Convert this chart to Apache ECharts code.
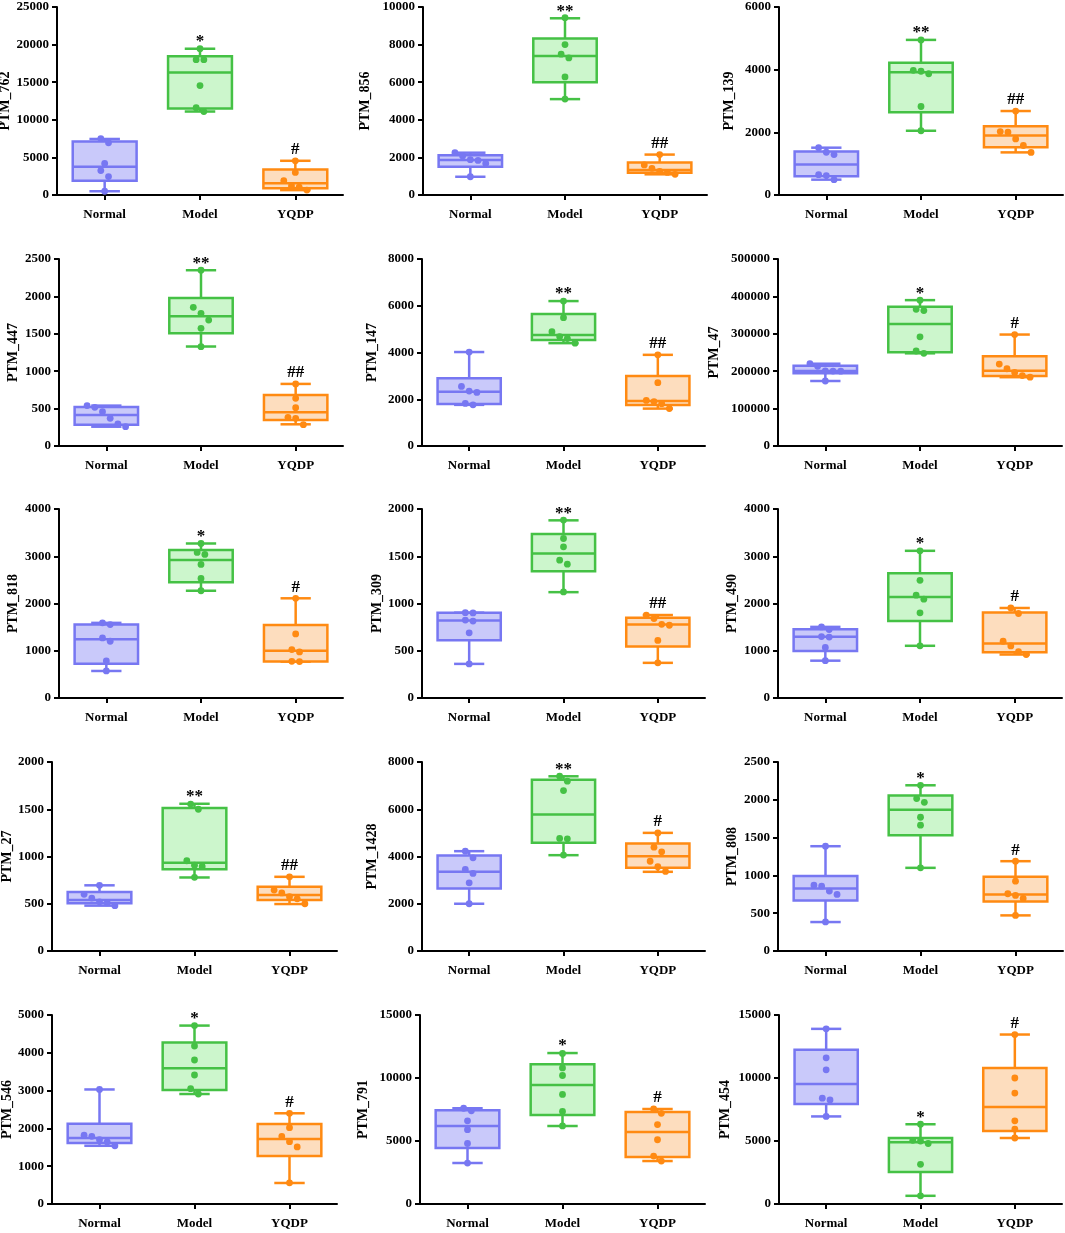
<!DOCTYPE html>
<html><head><meta charset="utf-8">
<script src="https://cdn.jsdelivr.net/npm/echarts/dist/echarts.min.js"></script>
<style>html,body{margin:0;padding:0;background:#fff}#c{width:1065px;height:1233px}</style>
</head><body><div id="c"></div><script>
// ---------------- DATA ----------------
const categories = ['Normal', 'Model', 'YQDP'];
const panelNames = ['PTM_762','PTM_856','PTM_139','PTM_447','PTM_147','PTM_47','PTM_818','PTM_309','PTM_490','PTM_27','PTM_1428','PTM_808','PTM_546','PTM_791','PTM_454'];
const axisMax  = [25000,10000,6000, 2500,8000,500000, 4000,2000,4000, 2000,8000,2500, 5000,15000,15000];
const axisStep = [5000,2000,2000, 500,2000,100000, 1000,500,1000, 500,2000,500, 1000,5000,5000];

// box stats: [min, q1, median, q3, max]
const normalBox = [
  [500,1900,3750,7100,7450],[970,1500,1860,2120,2250],[490,600,970,1390,1510],
  [258,283,414,520,540],[1760,1800,2320,2900,4020],[173800,194300,200500,214800,220000],
  [572,725,1244,1555,1590],[361,612,821,903,903],[790,996,1295,1455,1505],
  [480,504,540,625,695],[2000,2650,3355,4040,4225],[383,669,827,992,1386],
  [1540,1615,1745,2120,3030],[3254,4444,6200,7450,7600],[6950,7937,9520,12250,13900]
];
const modelBox = [
  [11100,11500,16300,18450,19450],[5100,6000,7400,8330,9400],[2050,2640,3920,4220,4950],
  [1330,1506,1735,1980,2350],[4400,4540,4750,5650,6200],[247800,251000,326000,372000,390000],
  [2270,2450,2920,3130,3270],[1120,1340,1529,1735,1880],[1105,1628,2140,2640,3115],
  [778,866,935,1514,1558],[4056,4577,5775,7250,7395],[1100,1530,1870,2057,2192],
  [2910,3016,3590,4270,4720],[6190,7063,9450,11100,11980],[650,2540,4900,5240,6330]
];
const yqdpBox = [
  [650,900,1550,3400,4550],[1100,1190,1330,1730,2150],[1360,1525,1900,2195,2680],
  [290,348,450,683,830],[1600,1755,1925,3000,3900],[184000,187200,201500,240000,298000],
  [770,770,1000,1545,2110],[372,545,778,850,878],[920,970,1152,1810,1905],
  [497,540,593,680,785],[3352,3521,4014,4549,5000],[471,655,748,983,1188],
  [556,1270,1720,2116,2400],[3410,3730,5714,7300,7540],[5238,5794,7700,10800,13450]
];

// individual samples
const normalPts = [
  [7500,6950,4200,3250,2450,500],[2250,2080,1880,1840,1680,970],[1510,1365,1290,650,620,490],
  [540,517,459,370,294,258],[4020,2550,2350,2290,1820,1760],[220000,213000,200800,200300,200000,173800],
  [1590,1555,1272,1201,784,572],[903,900,825,814,690,361],[1505,1450,1300,1290,1070,790],
  [695,600,560,520,510,480],[4225,3944,3451,3282,2887,2000],[1386,871,858,792,748,385],
  [3030,1820,1790,1700,1640,1540],[7600,7400,6600,5900,4800,3250],[13900,11600,10650,8400,8260,6950]
];
const modelPts = [
  [19450,18000,18000,14550,11600,11100],[9430,8000,7490,7290,6280,5100],[4950,3980,3950,3870,2825,2050],
  [2350,1854,1774,1684,1573,1328],[6200,5490,4890,4680,4600,4400],[390000,365500,362000,292000,254000,247800],
  [3270,3081,3039,2827,2530,2270],[1883,1688,1600,1458,1416,1122],[3115,2490,2177,2092,1802,1105],
  [1555,1500,955,908,895,780],[7400,7190,6790,4765,4750,4060],[2192,2016,1967,1769,1664,1100],
  [4720,4180,3809,3413,3050,2910],[11950,10800,10200,8700,7350,6200],[6330,5050,5000,4800,3150,650]
];
const yqdpPts = [
  [4550,3000,1900,1200,1050,650],[2150,1600,1420,1250,1200,1100],[2680,2025,2005,1790,1580,1360],
  [830,637,512,383,370,285],[3900,2710,1950,1900,1810,1600],[298000,219000,206500,196500,188300,184000],
  [2110,1357,1025,975,777,770],[878,840,780,770,609,372],[1905,1788,1201,1102,980,920],
  [785,645,615,575,552,500],[5000,4395,4200,3800,3570,3370],[1188,924,757,735,695,471],
  [2400,2020,1790,1650,1510,560],[7540,7200,6300,5100,3800,3410],[13450,10000,8800,6600,5950,5238]
];

// significance marks (Model vs Normal, YQDP vs Model)
const modelMarks = ['*','**','**','**','**','*','*','**','*','**','**','*','*','*','*'];
const yqdpMarks  = ['#','##','##','##','##','#','#','##','#','##','#','#','#','#','#'];

// ---------------- LAYOUT / STYLE ----------------
const gridLeft  = [57,423,779, 59,422,778, 59,422,778, 52,422,778, 52,420,779];
const gridRight = [343,707,1063, 343,705,1062, 343,705,1062, 337,705,1063, 337,705,1062];
const rowTop    = [7,259,509,762,1015];
const rowBottom = [195,446,698,951,1204];
const nameGaps  = [42,51,43, 39,43,57, 39,38,39, 38,43,39, 35,50,47];
const strokeColors = ['#7777F2','#45C145','#FF8A12'];
const fillColors   = ['#C9C9FA','#CCF6CC','#FDDDBE'];
const FONT = '"Liberation Serif","Times New Roman",serif';

const chart = echarts.init(document.getElementById('c'), null, {renderer:'canvas'});
const grids = [], xAxes = [], yAxes = [], series = [];

for (let i = 0; i < 15; i++) {
  const r = Math.floor(i / 3);
  grids.push({left: gridLeft[i], top: rowTop[r], width: gridRight[i] - gridLeft[i],
    height: rowBottom[r] - rowTop[r], containLabel: false, outerBoundsMode: 'none'});
  xAxes.push({type:'category', gridIndex:i, data:categories,
    axisLine:{show:true, onZero:false, lineStyle:{color:'#000', width:2}},
    axisTick:{show:true, alignWithLabel:true, length:5, lineStyle:{color:'#000', width:2}},
    axisLabel:{color:'#000', fontFamily:FONT, fontWeight:'bold', fontSize:13, margin:13},
    splitLine:{show:false}});
  yAxes.push({type:'value', gridIndex:i, min:0, max:axisMax[i], interval:axisStep[i],
    name:panelNames[i], nameLocation:'middle', nameGap:nameGaps[i],
    nameTextStyle:{color:'#000', fontFamily:FONT, fontWeight:'bold', fontSize:14},
    axisLine:{show:true, lineStyle:{color:'#000', width:2}},
    axisTick:{show:true, length:5, lineStyle:{color:'#000', width:2}},
    axisLabel:{color:'#000', fontFamily:FONT, fontWeight:'bold', fontSize:13, margin:8,
      formatter: v => String(v)},
    splitLine:{show:false}});

  const boxes = [normalBox[i], modelBox[i], yqdpBox[i]];
  const pts = [normalPts[i], modelPts[i], yqdpPts[i]];

  // boxes + whiskers
  series.push({type:'custom', xAxisIndex:i, yAxisIndex:i, silent:true,
    data: boxes.map((b, g) => [g].concat(b)),
    renderItem: function (params, api) {
      const g = api.value(0);
      const x = api.coord([g, api.value(3)])[0];
      const yv = k => api.coord([g, api.value(k)])[1];
      const yMin = yv(1), yQ1 = yv(2), yMed = yv(3), yQ3 = yv(4), yMax = yv(5);
      const cat = api.size([1, 0])[0];
      const bw = cat * 0.67, cw = cat * 0.32;
      const st = {stroke: strokeColors[g], lineWidth: 2.5, fill: null};
      return {type:'group', children:[
        {type:'line', shape:{x1:x, y1:yMax, x2:x, y2:yQ3}, style:st},
        {type:'line', shape:{x1:x, y1:yQ1, x2:x, y2:yMin}, style:st},
        {type:'line', shape:{x1:x - cw/2, y1:yMax, x2:x + cw/2, y2:yMax}, style:st},
        {type:'line', shape:{x1:x - cw/2, y1:yMin, x2:x + cw/2, y2:yMin}, style:st},
        {type:'rect', shape:{x:x - bw/2, y:yQ3, width:bw, height:yQ1 - yQ3},
          style:{fill: fillColors[g], stroke: strokeColors[g], lineWidth: 2.5}},
        {type:'line', shape:{x1:x - bw/2, y1:yMed, x2:x + bw/2, y2:yMed}, style:st}
      ]};
    }});

  // sample points with simple beeswarm spread
  const ptData = [];
  pts.forEach((arr, g) => arr.forEach((v, k) => ptData.push([g, v, k])));
  series.push({type:'custom', xAxisIndex:i, yAxisIndex:i, silent:true, data: ptData,
    renderItem: function (params, api) {
      const g = api.value(0), k = api.value(2);
      const arr = pts[g];
      const c = api.coord([g, arr[k]]);
      const D = 7;
      const ys = arr.map(v => api.coord([g, v])[1]);
      const order = ys.map((y, j) => j).sort((a, b) => ys[a] - ys[b]);
      const clusters = [];
      let cur = [order[0]];
      for (let t = 1; t < order.length; t++) {
        if (ys[order[t]] - ys[order[t - 1]] < D) cur.push(order[t]);
        else { clusters.push(cur); cur = [order[t]]; }
      }
      clusters.push(cur);
      let dx = 0;
      clusters.forEach(cl => { const p = cl.indexOf(k); if (p >= 0) dx = (p - (cl.length - 1) / 2) * D * 1.1; });
      return {type:'circle', shape:{cx: c[0] + dx, cy: c[1], r: 3.4}, style:{fill: strokeColors[g]}};
    }});

  // significance marks
  const marks = [modelMarks[i], yqdpMarks[i]];
  series.push({type:'custom', xAxisIndex:i, yAxisIndex:i, silent:true,
    data: [[1, boxes[1][4]], [2, boxes[2][4]]],
    renderItem: function (params, api) {
      const g = api.value(0);
      const c = api.coord([g, api.value(1)]);
      const txt = marks[params.dataIndex];
      const isStar = txt.indexOf('*') >= 0;
      return {type:'text', x: c[0], y: c[1] - (isStar ? 7 : 11),
        style:{text: txt, font: 'bold 17px ' + FONT, fill:'#000',
          align:'center', verticalAlign:'middle', textAlign:'center', textVerticalAlign:'middle'}};
    }});
}

chart.setOption({animation:false, backgroundColor:'#fff', grid:grids, xAxis:xAxes, yAxis:yAxes, series:series});
</script></body></html>
